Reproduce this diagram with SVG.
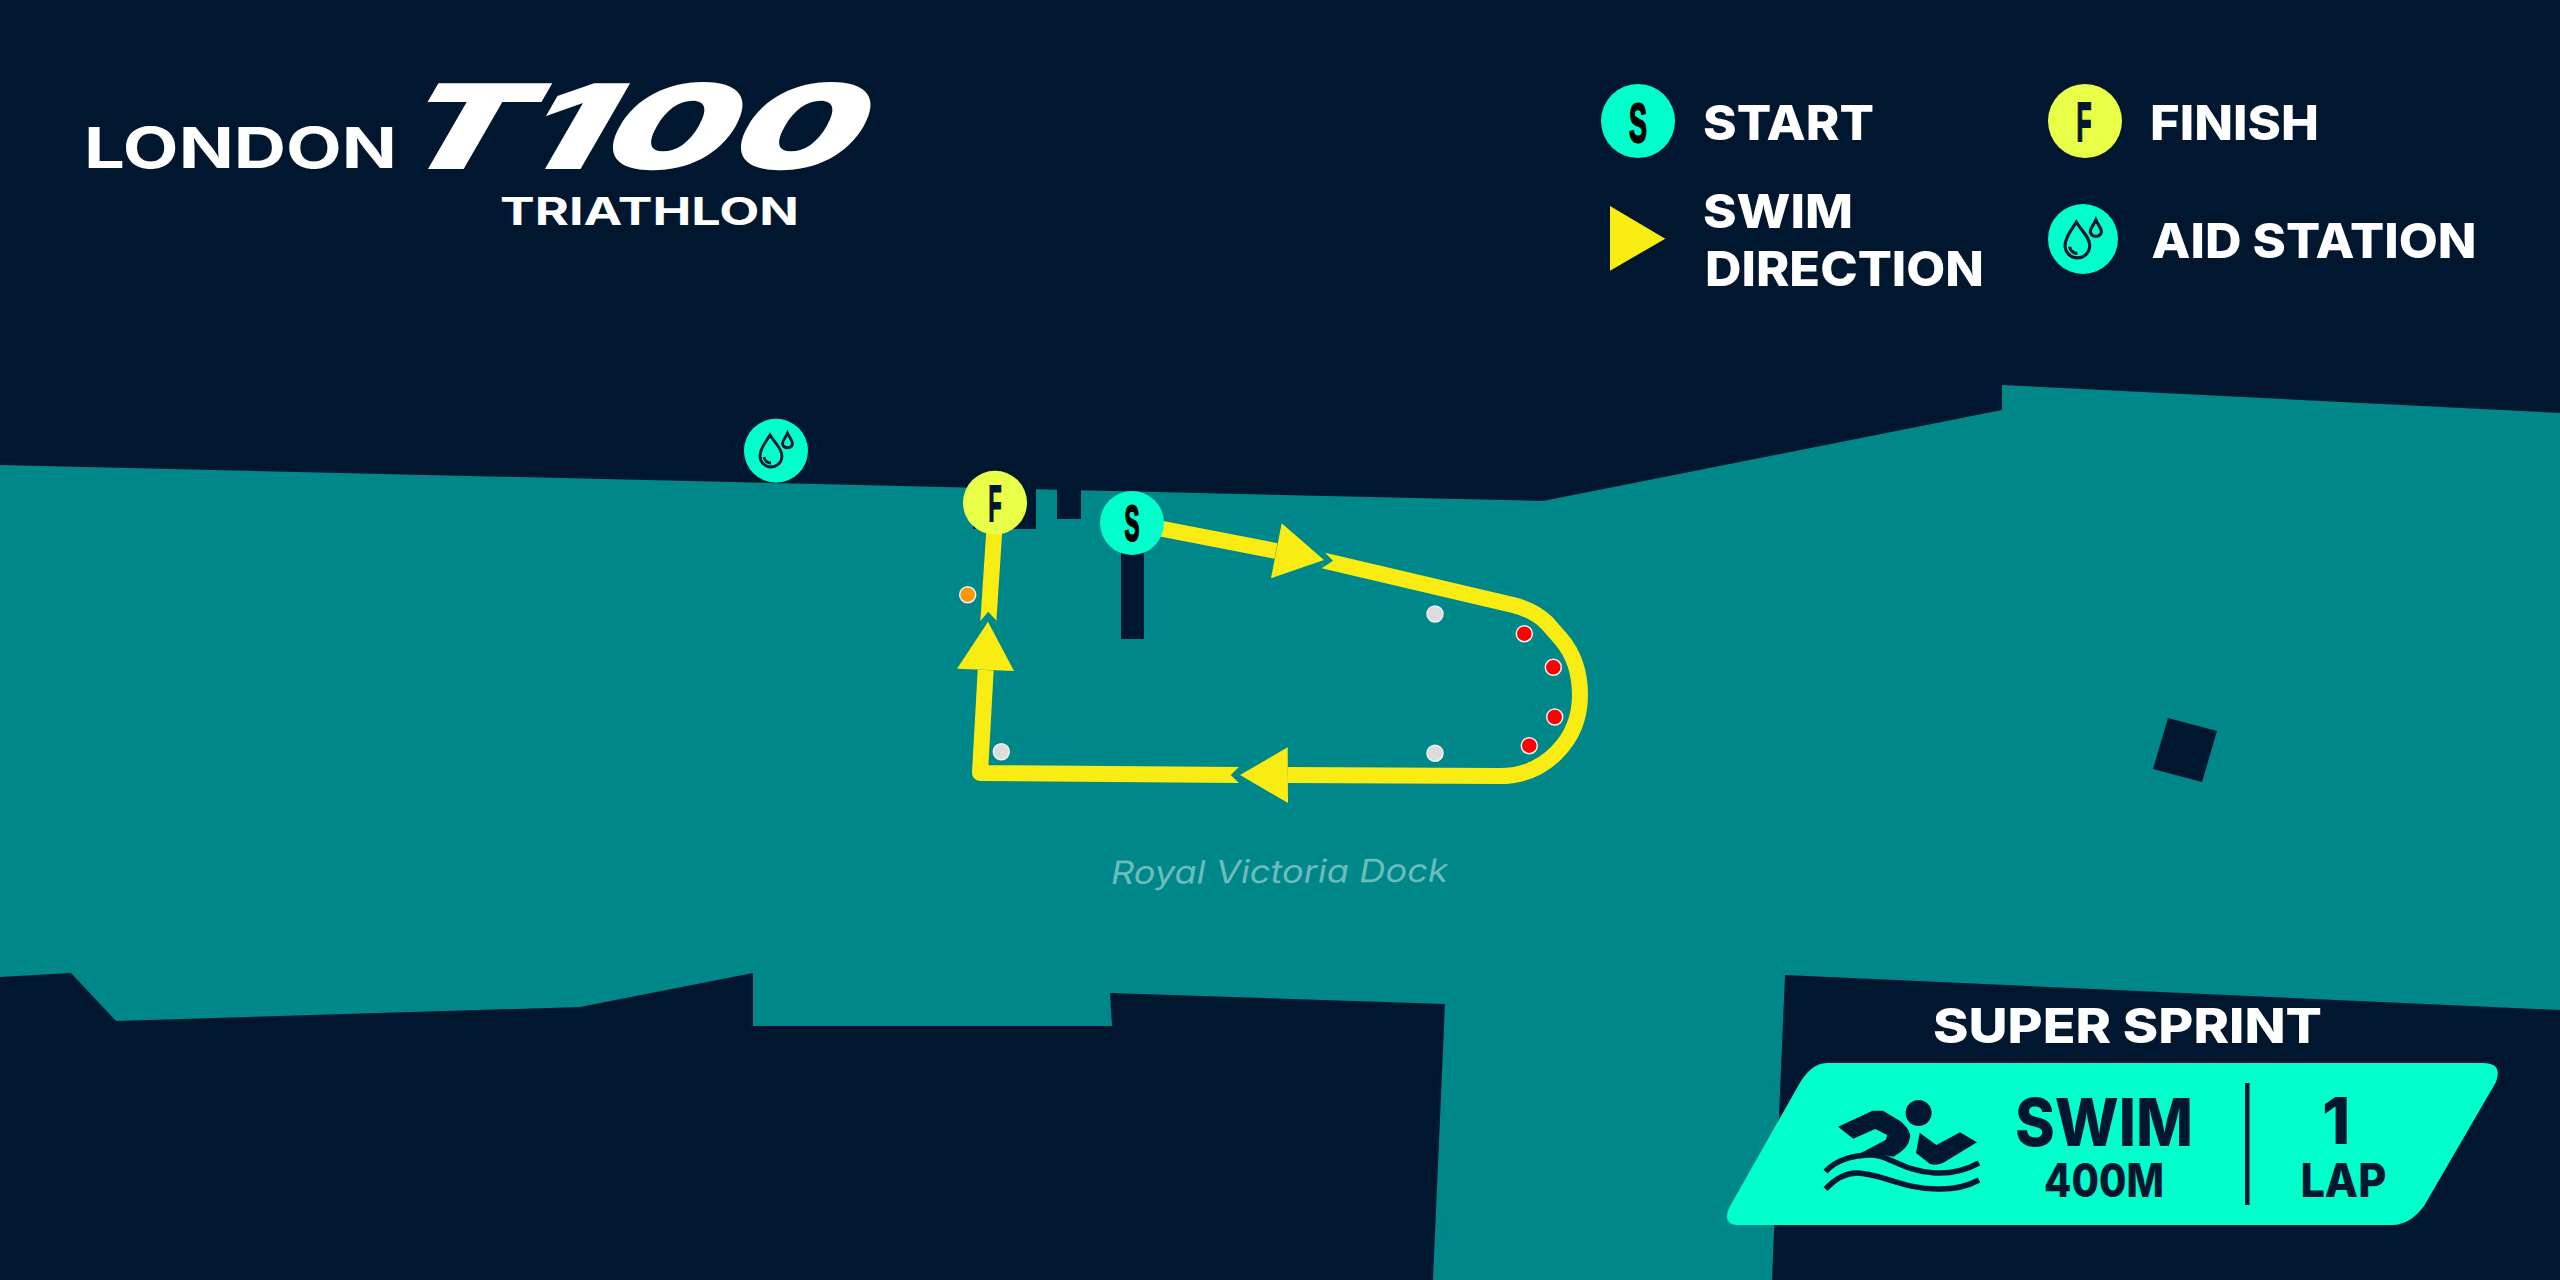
<svg xmlns="http://www.w3.org/2000/svg" width="2560" height="1280" viewBox="0 0 2560 1280">
<style>
.t{font-family:"Inter","Liberation Sans",sans-serif;font-weight:800;fill:#fff}
.d{fill:#011730}
.k{font-family:"Inter","Liberation Sans",sans-serif;font-weight:800;fill:#011730}
.m{font-family:"Liberation Sans",sans-serif;font-weight:700;font-size:50px;text-anchor:middle;stroke-width:2px}
.r{fill:none;stroke:#f8ec12;stroke-width:16;stroke-linejoin:round}
.a{fill:#f8ec12}
.n{fill:#008789}
.b{stroke:#f0f0f0;stroke-width:1.5}
.dr{fill:none;stroke:#011730;stroke-width:2.800}
</style>
<defs>
<g id="drops"><path class="dr" d="M-6 -16C-10 -9 -16 -3 -16 5A11 11 0 0 0 6 5C6 -3 -2 -9 -6 -16Z"/><path class="dr" d="M11.500 -18C9.500 -13 6.500 -11 6.500 -7A5.200 5.200 0 0 0 16.500 -7C16.500 -11 13.500 -13 11.500 -18Z"/><path class="dr" d="M-12 6A7 7 0 0 0 -5 12"/></g>
</defs>
<rect width="2560" height="1280" fill="#011730"/>
<g id="water">
<path class="n" d="M0 465L1543 501L2002 410V385L2560 413V1010L1785 975L1772 1280H1433L1445 1004L1110 993L1112 1026L753 1026V973L580 1007L116 1021L71 973L0 977Z"/>
<path class="d" d="M973 483H1021V489H1036V529H973Z"/>
<path class="d" d="M1057 489H1081V519H1057Z"/>
<path class="d" d="M1121 520H1144V639H1121Z"/>
<path class="d" d="M2168 718L2217 731L2202 782L2153 769Z"/>
<text x="1111" y="884" transform="rotate(-0.4 1111 884)" font-family="Inter,'Liberation Sans',sans-serif" font-style="italic" font-size="32" fill="#6bbcbc" textLength="337" lengthAdjust="spacingAndGlyphs">Royal Victoria Dock</text>
</g>
<g id="connectors">
<path class="r" d="M1132 523L1276 551"/>
<path class="a" d="M1324 560L1281.700 523.300L1271 578.300Z"/>
<path class="r" d="M1323.400 560.500L1513 605C1525 608 1537 613 1547 623L1561 639C1573 653 1580 673 1580 695C1580 740 1545 776 1500 776L1288 775"/>
<path class="n" d="M1325 552.700L1333 560.700L1321.700 568.300Z"/>
<path class="a" d="M1240 775L1287.700 747.300L1288 803Z"/>
<path class="r" d="M1239 775L980 773L985.700 670"/>
<path class="a" d="M988 621.700L957 668.700L1014 671Z"/>
<path class="r" d="M988.300 621.700L995 520"/>
</g>
<g id="notches">
<path class="n" d="M1239.500 766.500L1230.700 775L1239.500 783.500Z"/>
<path class="n" d="M979.500 622L988.300 611.700L997.500 622Z"/>
</g>
<g id="buoys">
<circle class="b" cx="1435" cy="614" r="8" fill="#dcdcdc"/>
<circle class="b" cx="1435" cy="753.300" r="8" fill="#dcdcdc"/>
<circle class="b" cx="1001.300" cy="751.700" r="8" fill="#dcdcdc"/>
<circle class="b" cx="1524.300" cy="633.700" r="8" fill="#f00"/>
<circle class="b" cx="1553.300" cy="667.300" r="8" fill="#f00"/>
<circle class="b" cx="1554.700" cy="717" r="8" fill="#f00"/>
<circle class="b" cx="1529.300" cy="745.700" r="8" fill="#f00"/>
<circle class="b" cx="967.700" cy="594.700" r="8" fill="#f90"/>
</g>
<g id="node-aid"><circle cx="776" cy="450.700" r="32" fill="#00ffcb"/><use href="#drops" x="776" y="451"/></g>
<g id="node-finish"><circle cx="995" cy="502.700" r="32" fill="#e9ff47"/><text class="m" x="995" y="520.500" fill="#011730" stroke="#011730" textLength="13" lengthAdjust="spacingAndGlyphs">F</text></g>
<g id="node-start"><circle cx="1132" cy="523" r="32" fill="#00ffcb"/><text class="m" x="1132" y="541" fill="#000" stroke="#000" textLength="15" lengthAdjust="spacingAndGlyphs">S</text></g>
<g id="logo">
<text class="t" x="84" y="168" font-size="56" style="font-weight:700" textLength="313" lengthAdjust="spacingAndGlyphs">LONDON</text>
<text class="t" transform="translate(384 169) skewX(-30)" font-size="118" style="font-weight:900" textLength="461" lengthAdjust="spacingAndGlyphs">T100</text>
<text class="t" x="500" y="225" font-size="38" style="font-weight:700" textLength="299" lengthAdjust="spacingAndGlyphs">TRIATHLON</text>
</g>
<g id="legend">
<g id="legend-start"><circle cx="1638" cy="121" r="37" fill="#00ffcb"/><text class="m" x="1638" y="142" style="font-size:56px" fill="#000" stroke="#000" textLength="18" lengthAdjust="spacingAndGlyphs">S</text><text class="t" x="1703" y="140" font-size="48" textLength="171" lengthAdjust="spacingAndGlyphs">START</text></g>
<g id="legend-finish"><circle cx="2085" cy="121" r="37" fill="#e9ff47"/><text class="m" x="2084" y="141" style="font-size:56px" fill="#011730" stroke="#011730" textLength="15" lengthAdjust="spacingAndGlyphs">F</text><text class="t" x="2150" y="140" font-size="48" textLength="169" lengthAdjust="spacingAndGlyphs">FINISH</text></g>
<g id="legend-swim"><path class="a" d="M1610 206L1665.300 238.700L1610 270.700Z"/><text class="t" x="1703" y="228" font-size="47" textLength="150" lengthAdjust="spacingAndGlyphs">SWIM</text><text class="t" x="1705" y="286" font-size="48" textLength="279" lengthAdjust="spacingAndGlyphs">DIRECTION</text></g>
<g id="legend-aid"><circle cx="2083" cy="239" r="35" fill="#00ffcb"/><use href="#drops" transform="translate(2083 240) scale(1.12)"/><text class="t" x="2151.500" y="258" font-size="48" textLength="325" lengthAdjust="spacingAndGlyphs">AID STATION</text></g>
</g>
<g id="summary">
<text class="t" x="1933" y="1042.700" font-size="48" textLength="389" lengthAdjust="spacingAndGlyphs">SUPER SPRINT</text>
<path d="M1827 1063H2483Q2503 1063 2496 1082L2424 1206Q2410 1225 2392 1225H1738Q1722 1225 1729 1208L1797 1088Q1810 1063 1827 1063Z" fill="#00ffcb"/>
<g id="swim-icon">
<ellipse class="d" cx="1918.600" cy="1113" rx="13" ry="13"/>
<path class="d" d="M1838 1126.700L1872.600 1110.700H1883L1901.400 1121.700Q1912 1132 1910 1138Q1909 1148 1893.500 1156.700Q1875 1153 1857 1155L1885.700 1140L1887.200 1135L1875.200 1129L1853.300 1138.700Z"/>
<path class="d" d="M1919.700 1132.700L1936.400 1145L1960 1132.300L1977 1142.300L1943 1163Q1936 1166 1930 1164L1916 1153Z"/>
<path fill="none" stroke="#011730" stroke-width="5.500" d="M1825.500 1171.700C1835 1161 1850 1155 1872.600 1155C1888 1155 1905 1172 1935 1173C1955 1174 1968 1169 1979 1163"/>
<path fill="none" stroke="#011730" stroke-width="5.500" d="M1825.500 1189C1835 1179 1846 1173 1857 1173C1880 1173 1905 1190 1940 1189C1955 1189 1968 1186 1979 1180"/>
</g>
<text class="k" x="2015" y="1145.700" font-size="66" textLength="178" lengthAdjust="spacingAndGlyphs">SWIM</text>
<text class="k" x="2044" y="1197" font-size="46" textLength="120" lengthAdjust="spacingAndGlyphs">400M</text>
<rect class="d" x="2245" y="1083" width="4.500" height="122"/>
<text class="k" x="2336" y="1143.500" font-size="64" text-anchor="middle">1</text>
<text class="k" x="2300.400" y="1197" font-size="46" textLength="86" lengthAdjust="spacingAndGlyphs">LAP</text>
</g>
</svg>
